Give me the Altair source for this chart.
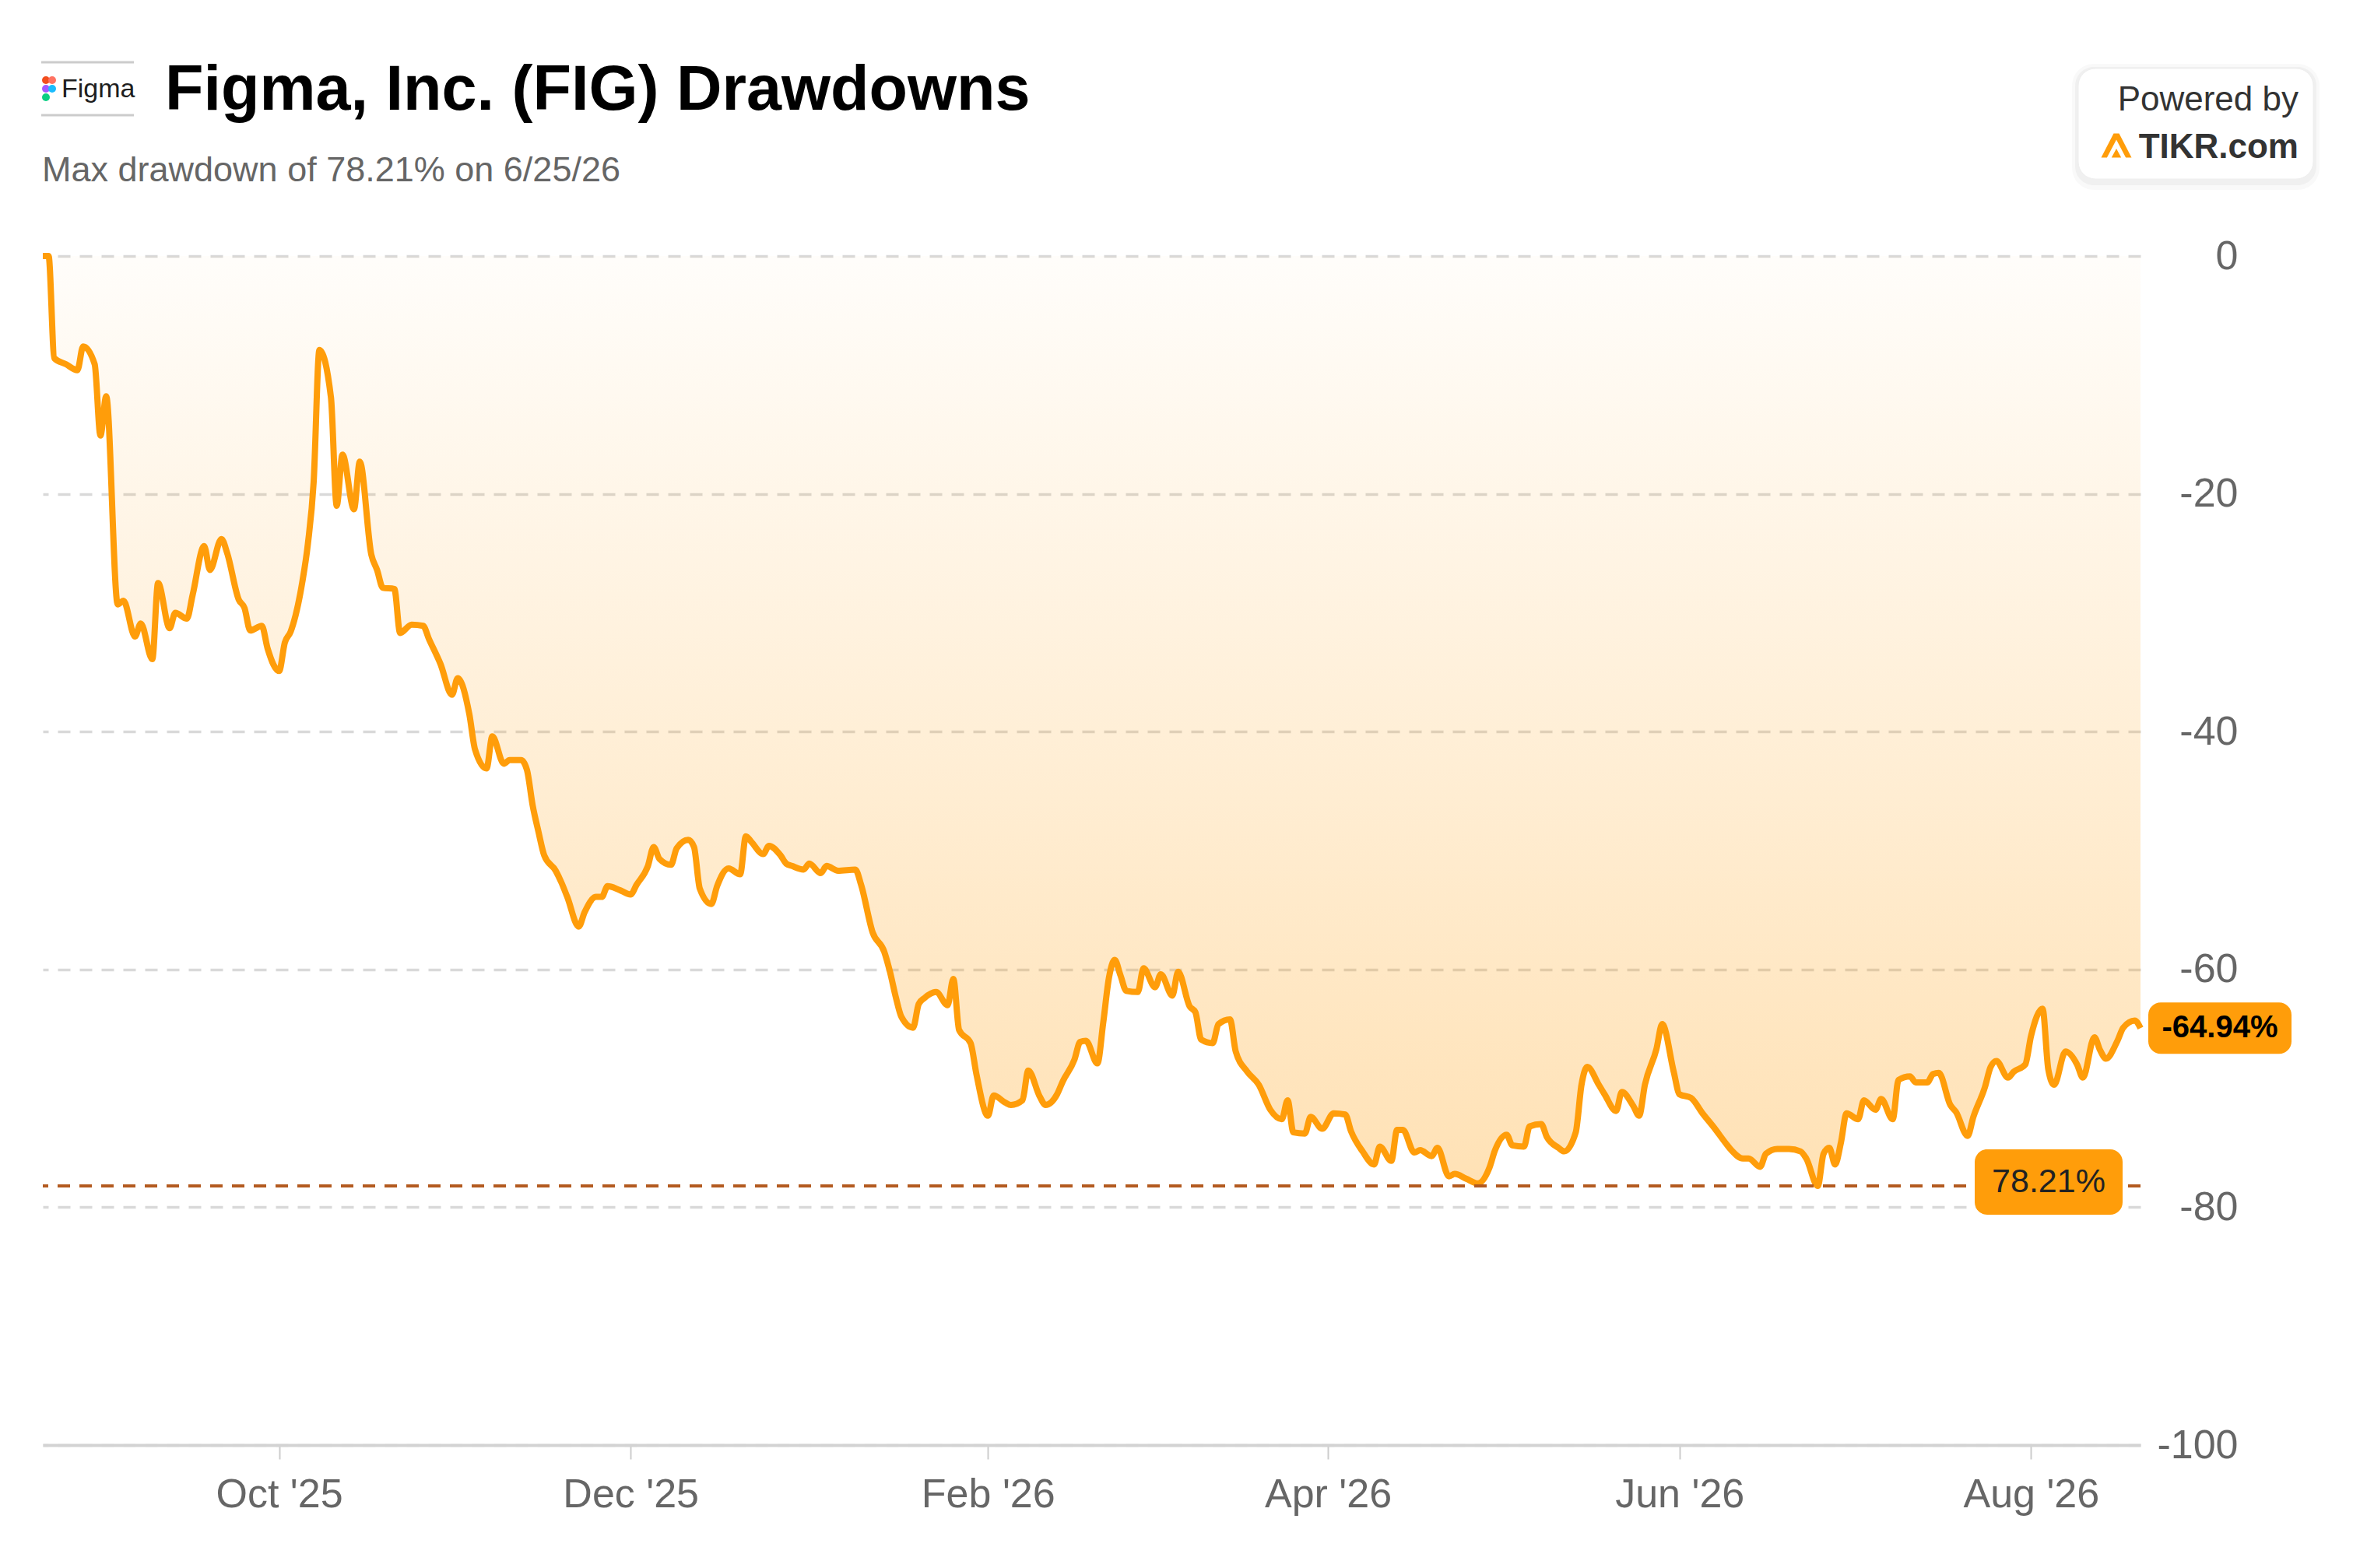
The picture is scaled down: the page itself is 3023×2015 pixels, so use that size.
import altair as alt
import pandas as pd

# ---------------- data ----------------
dates = [
    "2025-08-21", "2025-08-22", "2025-08-23", "2025-08-25", "2025-08-27", "2025-08-28", "2025-08-30", "2025-08-31",
    "2025-09-01", "2025-09-03", "2025-09-04", "2025-09-06", "2025-09-07", "2025-09-09", "2025-09-10", "2025-09-12",
    "2025-09-13", "2025-09-15", "2025-09-16", "2025-09-18", "2025-09-19", "2025-09-21", "2025-09-22", "2025-09-24",
    "2025-09-25", "2025-09-26", "2025-09-28", "2025-09-29", "2025-10-01", "2025-10-02", "2025-10-03", "2025-10-05",
    "2025-10-06", "2025-10-07", "2025-10-08", "2025-10-10", "2025-10-11", "2025-10-12", "2025-10-14", "2025-10-15",
    "2025-10-17", "2025-10-18", "2025-10-19", "2025-10-21", "2025-10-22", "2025-10-24", "2025-10-26", "2025-10-27",
    "2025-10-29", "2025-10-31", "2025-11-01", "2025-11-03", "2025-11-04", "2025-11-06", "2025-11-07", "2025-11-09",
    "2025-11-10", "2025-11-12", "2025-11-13", "2025-11-14", "2025-11-15", "2025-11-16", "2025-11-18", "2025-11-19",
    "2025-11-20", "2025-11-22", "2025-11-23", "2025-11-25", "2025-11-26", "2025-11-27", "2025-11-29", "2025-12-01",
    "2025-12-02", "2025-12-04", "2025-12-05", "2025-12-06", "2025-12-08", "2025-12-09", "2025-12-11", "2025-12-12",
    "2025-12-13", "2025-12-15", "2025-12-16", "2025-12-18", "2025-12-20", "2025-12-21", "2025-12-22", "2025-12-24",
    "2025-12-25", "2025-12-27", "2025-12-28", "2025-12-29", "2025-12-31", "2026-01-01", "2026-01-03", "2026-01-04",
    "2026-01-06", "2026-01-09", "2026-01-10", "2026-01-12", "2026-01-14", "2026-01-15", "2026-01-16", "2026-01-17",
    "2026-01-19", "2026-01-20", "2026-01-21", "2026-01-23", "2026-01-25", "2026-01-26", "2026-01-27", "2026-01-29",
    "2026-01-30", "2026-02-01", "2026-02-02", "2026-02-04", "2026-02-05", "2026-02-07", "2026-02-08", "2026-02-10",
    "2026-02-11", "2026-02-13", "2026-02-14", "2026-02-16", "2026-02-17", "2026-02-18", "2026-02-20", "2026-02-21",
    "2026-02-22", "2026-02-23", "2026-02-24", "2026-02-25", "2026-02-27", "2026-02-28", "2026-03-02", "2026-03-03",
    "2026-03-05", "2026-03-06", "2026-03-08", "2026-03-09", "2026-03-10", "2026-03-12", "2026-03-13", "2026-03-15",
    "2026-03-16", "2026-03-18", "2026-03-20", "2026-03-22", "2026-03-24", "2026-03-25", "2026-03-26", "2026-03-28",
    "2026-03-29", "2026-03-31", "2026-04-02", "2026-04-04", "2026-04-05", "2026-04-07", "2026-04-09", "2026-04-10",
    "2026-04-12", "2026-04-13", "2026-04-14", "2026-04-16", "2026-04-17", "2026-04-19", "2026-04-20", "2026-04-22",
    "2026-04-23", "2026-04-25", "2026-04-27", "2026-04-29", "2026-04-30", "2026-05-02", "2026-05-03", "2026-05-05",
    "2026-05-06", "2026-05-08", "2026-05-09", "2026-05-11", "2026-05-12", "2026-05-14", "2026-05-15", "2026-05-16",
    "2026-05-18", "2026-05-19", "2026-05-21", "2026-05-22", "2026-05-24", "2026-05-25", "2026-05-26", "2026-05-28",
    "2026-05-29", "2026-05-31", "2026-06-01", "2026-06-03", "2026-06-05", "2026-06-07", "2026-06-09", "2026-06-10",
    "2026-06-12", "2026-06-13", "2026-06-15", "2026-06-16", "2026-06-18", "2026-06-20", "2026-06-22", "2026-06-23",
    "2026-06-25", "2026-06-26", "2026-06-27", "2026-06-28", "2026-06-29", "2026-06-30", "2026-07-02", "2026-07-03",
    "2026-07-05", "2026-07-06", "2026-07-08", "2026-07-09", "2026-07-11", "2026-07-12", "2026-07-14", "2026-07-15",
    "2026-07-16", "2026-07-18", "2026-07-19", "2026-07-21", "2026-07-22", "2026-07-24", "2026-07-25", "2026-07-26",
    "2026-07-28", "2026-07-29", "2026-07-31", "2026-08-01", "2026-08-03", "2026-08-04", "2026-08-05", "2026-08-07",
    "2026-08-09", "2026-08-10", "2026-08-12", "2026-08-13", "2026-08-14", "2026-08-16", "2026-08-17", "2026-08-19",
    "2026-08-20",
]

drawdown = [
    0.0, 0.0, -8.6, -9.1, -9.6, -7.6, -9.1, -15.1,
    -11.8, -29.3, -29.0, -32.0, -30.9, -33.9, -27.5, -31.3,
    -30.0, -30.5, -28.5, -24.4, -26.4, -23.8, -25.0, -28.9,
    -29.6, -31.5, -31.1, -33.0, -34.9, -32.5, -31.6, -27.5,
    -24.2, -19.0, -7.9, -11.9, -21.0, -16.7, -21.3, -17.3,
    -25.1, -26.4, -27.9, -28.0, -31.7, -31.0, -31.1, -32.2,
    -34.3, -36.9, -35.5, -38.5, -41.5, -43.1, -40.4, -42.7,
    -42.4, -42.4, -43.2, -46.2, -48.4, -50.4, -51.7, -52.7,
    -53.9, -56.4, -55.2, -53.9, -53.9, -53.0, -53.3, -53.7,
    -52.9, -51.3, -49.7, -50.7, -51.2, -49.8, -49.1, -49.7,
    -53.2, -54.5, -53.0, -51.5, -52.0, -48.8, -49.3, -50.3,
    -49.6, -50.4, -51.1, -51.3, -51.6, -51.1, -51.9, -51.3,
    -51.7, -51.6, -52.9, -56.9, -58.5, -60.2, -62.3, -64.0,
    -64.9, -62.9, -62.4, -61.9, -63.0, -60.8, -65.1, -66.2,
    -68.8, -72.3, -70.6, -71.2, -71.4, -71.0, -68.5, -70.7,
    -71.4, -70.5, -69.4, -67.6, -66.1, -66.0, -67.9, -64.5,
    -60.7, -59.2, -60.5, -61.8, -61.9, -59.9, -61.5, -60.4,
    -62.2, -60.2, -63.1, -63.6, -65.9, -66.2, -64.6, -64.2,
    -66.9, -68.6, -69.7, -71.8, -72.6, -71.0, -73.7, -73.8,
    -72.4, -73.4, -72.1, -72.2, -73.6, -75.3, -76.4, -74.9,
    -76.1, -73.5, -73.5, -75.4, -75.2, -75.7, -75.0, -77.4,
    -77.2, -77.6, -78.0, -76.7, -75.2, -73.9, -74.8, -74.9,
    -73.2, -73.0, -74.1, -75.0, -75.3, -73.7, -69.7, -68.2,
    -69.7, -70.5, -71.9, -70.3, -71.5, -72.3, -69.7, -66.7,
    -64.6, -68.6, -70.5, -70.8, -72.1, -73.3, -74.6, -75.2,
    -75.9, -75.9, -76.6, -75.5, -75.1, -75.1, -75.3, -75.9,
    -78.21, -75.5, -75.0, -76.4, -74.6, -72.1, -72.6, -71.0,
    -71.8, -70.9, -72.6, -69.3, -69.0, -69.5, -69.5, -68.8,
    -68.7, -71.4, -72.0, -74.0, -72.4, -69.9, -68.2, -67.7,
    -69.1, -68.6, -68.0, -65.6, -63.3, -68.4, -69.7, -66.9,
    -68.0, -69.1, -65.7, -66.8, -67.5, -66.0, -64.9, -64.3,
    -64.94,
]

y_ticks = [0, -20, -40, -60, -80, -100]
x_tick_years = [2025, 2025, 2026, 2026, 2026, 2026]
x_tick_months = [10, 12, 2, 4, 6, 8]

title_text = "Figma, Inc. (FIG) Drawdowns"
subtitle_text = "Max drawdown of 78.21% on 6/25/26"
max_dd_value = -78.21
max_dd_label = "78.21%"
last_label = "-64.94%"
powered_text = "Powered by"
brand_text = "TIKR.com"
logo_word = "Figma"

# ---------------- styling ----------------
W, H = 2695, 1528
FONT = "Liberation Sans"
ORANGE = "#FF9D0A"
BROWN = "#B35A1F"
GREY_TXT = "#666666"

df = pd.DataFrame({"date": dates, "drawdown": drawdown})
last_df = df.tail(1).reset_index(drop=True)
one = pd.DataFrame({"k": [0]})

x_axis = alt.Axis(
    values=[alt.DateTime(year=y, month=m, date=1, utc=True) for y, m in zip(x_tick_years, x_tick_months)],
    labelExpr="utcFormat(datum.value, \"%b '%y\")", title=None, grid=False,
    labelFont=FONT, labelFontSize=52, labelColor=GREY_TXT, labelPadding=20,
    labelFlush=False, labelOverlap=False, labelLimit=400,
    tickSize=18, tickColor="#cccccc", tickWidth=2,
    domainColor="#d3d3d3", domainWidth=4,
)
y_axis = alt.Axis(
    orient="right", values=y_ticks, title=None, grid=True,
    gridDash=[16, 12], gridColor="#d9d9d9", gridWidth=3.5,
    ticks=False, domain=False, labelFlush=False,
    labelExpr="datum.value < 0 ? '-' + format(-datum.value, 'd') : format(datum.value, 'd')",
    labelFont=FONT, labelFontSize=52, labelColor=GREY_TXT,
    labelAlign="right", labelPadding=125,
)

x_enc = alt.X("date:T", scale=alt.Scale(type="utc", nice=False), axis=x_axis)
y_enc = alt.Y("drawdown:Q", scale=alt.Scale(domain=[-100, 0], nice=False), axis=y_axis)

area = alt.Chart(df).mark_area(
    interpolate="monotone",
    color=alt.Gradient(
        gradient="linear",
        stops=[alt.GradientStop(color="rgba(255,157,10,0.02)", offset=0),
               alt.GradientStop(color="rgba(255,157,10,0.30)", offset=1)],
        x1=0, x2=0, y1=0, y2=1,
    ),
).encode(x=x_enc, y=y_enc, y2=alt.datum(0))

line = alt.Chart(df).mark_line(
    interpolate="monotone", color=ORANGE, strokeWidth=8
).encode(x="date:T", y="drawdown:Q")

max_rule = alt.Chart(one).mark_rule(
    color=BROWN, strokeWidth=4, strokeDash=[16, 12]
).encode(y=alt.datum(max_dd_value))

max_box = alt.Chart(last_df).mark_rect(
    color=ORANGE, cornerRadius=16, xOffset=-213, x2Offset=-23, yOffset=-47, y2Offset=37
).encode(x="date:T", x2="date", y=alt.datum(max_dd_value), y2=alt.datum(max_dd_value))

max_text = alt.Chart(last_df).mark_text(
    text=max_dd_label, font=FONT, fontSize=43, color="#222222",
    align="center", baseline="middle", dx=-118, dy=-5,
).encode(x="date:T", y=alt.datum(max_dd_value))

last_box = alt.Chart(last_df).mark_rect(
    color=ORANGE, cornerRadius=16, xOffset=10, x2Offset=194, yOffset=-33, y2Offset=33
).encode(x="date:T", x2="date", y="drawdown:Q", y2="drawdown")

last_text = alt.Chart(last_df).mark_text(
    text=last_label, font=FONT, fontSize=40, fontWeight="bold", color="#000000",
    align="center", baseline="middle", dx=102,
).encode(x="date:T", y="drawdown:Q")

title = alt.Chart(one).mark_text(
    text=title_text, font=FONT, fontSize=81, fontWeight="bold", color="#000000",
    align="left", baseline="alphabetic",
).encode(x=alt.value(157), y=alt.value(-188))

subtitle = alt.Chart(one).mark_text(
    text=subtitle_text, font=FONT, fontSize=45, color=GREY_TXT,
    align="left", baseline="alphabetic",
).encode(x=alt.value(-1), y=alt.value(-96))

# Figma logo block
logo_top = alt.Chart(one).mark_rule(color="#cccccc", strokeWidth=3).encode(
    x=alt.value(-2), x2=alt.value(117), y=alt.value(-249))
logo_bottom = alt.Chart(one).mark_rule(color="#cccccc", strokeWidth=3).encode(
    x=alt.value(-2), x2=alt.value(117), y=alt.value(-181))
logo_word_mark = alt.Chart(one).mark_text(
    text=logo_word, font=FONT, fontSize=34, color="#1e1e1e", align="left", baseline="alphabetic"
).encode(x=alt.value(24), y=alt.value(-204))
dot_specs = [("#F24E1E", 4, -226), ("#FF7262", 12, -226), ("#A259FF", 4, -215),
             ("#1ABCFE", 12, -215), ("#0ACF83", 4, -204)]
logo_dots = [
    alt.Chart(one).mark_point(filled=True, shape="circle", size=100, color=c, opacity=1).encode(
        x=alt.value(px), y=alt.value(py))
    for c, px, py in dot_specs
]

# Powered by TIKR badge (with soft shadow)
shadow2 = alt.Chart(one).mark_rect(fill="#000000", opacity=0.025, cornerRadius=28).encode(
    x=alt.value(2607), x2=alt.value(2925), y=alt.value(-247), y2=alt.value(-85))
shadow1 = alt.Chart(one).mark_rect(fill="#000000", opacity=0.035, cornerRadius=24).encode(
    x=alt.value(2611), x2=alt.value(2921), y=alt.value(-243), y2=alt.value(-91))
badge = alt.Chart(one).mark_rect(
    fill="#ffffff", stroke="#eeeeee", strokeWidth=1, cornerRadius=22
).encode(x=alt.value(2615), x2=alt.value(2917), y=alt.value(-241), y2=alt.value(-99))
powered = alt.Chart(one).mark_text(
    text=powered_text, font=FONT, fontSize=44, color="#333333", align="right", baseline="alphabetic"
).encode(x=alt.value(2898), y=alt.value(-187))
brand = alt.Chart(one).mark_text(
    text=brand_text, font=FONT, fontSize=44, fontWeight="bold", color="#333333",
    align="right", baseline="alphabetic"
).encode(x=alt.value(2898), y=alt.value(-126))
brand_logo = alt.Chart(one).mark_point(
    filled=True, color=ORANGE, opacity=1, size=1521,
    shape="M-1,0.8L-0.18,-0.8L0.18,-0.8L1,0.8L0.62,0.8L0,-0.38L-0.62,0.8Z M-0.32,0.8L0,0.2L0.32,0.8Z",
).encode(x=alt.value(2664), y=alt.value(-142))

chart = alt.layer(
    area, line, max_rule, max_box, max_text, last_box, last_text,
    title, subtitle, logo_top, logo_bottom, logo_word_mark, *logo_dots,
    shadow2, shadow1, badge, powered, brand, brand_logo,
).properties(
    width=W, height=H,
    autosize=alt.AutoSizeParams(type="none"),
    padding={"left": 47, "top": 321, "right": 260, "bottom": 140},
    background="#ffffff",
).configure_view(stroke=None)

chart.save("out.html", embed_options={"renderer": "svg", "actions": False})
